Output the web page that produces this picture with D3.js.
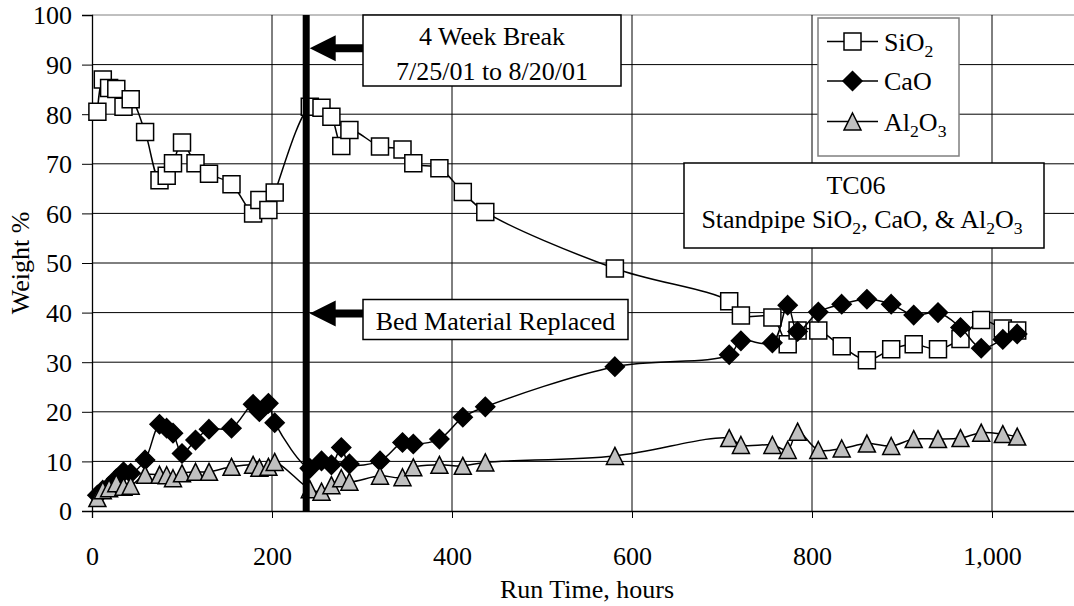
<!DOCTYPE html>
<html>
<head>
<meta charset="utf-8">
<script src="https://cdn.jsdelivr.net/npm/d3@7"></script>
<style>
  html, body { margin: 0; padding: 0; background: #fff; }
  svg { display: block; font-family: "Liberation Serif", "Times New Roman", serif; }
</style>
</head>
<body>
<svg id="chart" width="1074" height="606"></svg>
<script>
// ---------- data ----------
const hours = [6, 12, 19, 27, 35, 43, 59, 75, 83, 90, 100, 115, 130, 155, 179, 186, 196, 203,
               242, 255, 266, 277, 286, 320, 345, 357, 386, 412, 437, 581,
               708, 721, 756, 773, 784, 807, 833, 861, 888, 913, 940, 965, 988, 1012, 1028];
const sio2 = [80.5, 87.0, 85.3, 85.1, 81.5, 83.0, 76.4, 66.7, 67.6, 70.1, 74.3, 70.1, 68.0, 65.9, 60.0, 62.7, 60.7, 64.2,
              81.5, 81.3, 79.5, 73.6, 76.8, 73.5, 72.9, 70.1, 69.1, 64.3, 60.3, 48.9,
              42.3, 39.4, 39.0, 33.6, 36.4, 36.4, 33.2, 30.4, 32.6, 33.6, 32.6, 34.7, 38.5, 36.8, 36.4];
const cao = [3.2, 4.2, 5.0, 6.5, 7.9, 7.6, 10.3, 17.5, 16.7, 15.7, 11.6, 14.3, 16.5, 16.7, 21.5, 20.0, 21.7, 17.8,
             8.6, 10.1, 9.3, 12.8, 9.5, 10.1, 13.8, 13.5, 14.5, 18.9, 21.0, 29.1,
             31.5, 34.3, 33.9, 41.5, 36.2, 40.1, 41.7, 42.7, 41.7, 39.5, 40.0, 37.0, 32.8, 34.6, 35.7];
const al2o3 = [2.6, 4.2, 4.6, 5.6, 4.9, 5.1, 7.3, 7.3, 7.2, 6.6, 7.6, 7.9, 7.9, 8.9, 9.3, 8.7, 8.9, 9.9,
               4.4, 3.9, 5.2, 6.6, 5.9, 7.1, 6.8, 8.8, 9.3, 9.1, 9.8, 11.1,
               14.7, 13.3, 13.3, 12.3, 16.0, 12.3, 12.6, 13.6, 13.1, 14.5, 14.5, 14.7, 15.8, 15.5, 15.0];
const xTickValues = [0, 200, 400, 600, 800, 1000];
const yTickValues = [0, 10, 20, 30, 40, 50, 60, 70, 80, 90, 100];
const breakHour = 238;
const seriesNames = [
  [["SiO", 0], ["2", 1]],
  [["CaO", 0]],
  [["Al", 0], ["2", 1], ["O", 0], ["3", 1]]
];
const breakLabel = ["4 Week Break", "7/25/01 to 8/20/01"];
const bedLabel = "Bed Material Replaced";
const xTitle = "Run Time, hours";
const yTitle = "Weight %";

// ---------- layout ----------
const svg = d3.select("#chart");
const FONT = 26;
const SERIF = "Liberation Serif";
const x = d3.scaleLinear().domain([0, 1100]).range([92, 1082]);
const y = d3.scaleLinear().domain([0, 100]).range([511, 15]);

svg.append("rect").attr("width", 1074).attr("height", 606).attr("fill", "#fff");

// gridlines
const grid = svg.append("g");
grid.selectAll("line.h").data(yTickValues.filter(d => d > 0)).join("line")
  .attr("x1", x(0)).attr("x2", x(1100))
  .attr("y1", d => y(d)).attr("y2", d => y(d))
  .attr("stroke", d => d === 100 ? "#808080" : "#000").attr("stroke-width", 1);
grid.selectAll("line.v").data(xTickValues.filter(d => d > 0)).join("line")
  .attr("x1", d => x(d)).attr("x2", d => x(d))
  .attr("y1", y(0)).attr("y2", y(100))
  .attr("stroke", "#000").attr("stroke-width", 1);

// axes
const xAxis = d3.axisBottom(x).tickValues(xTickValues).tickFormat(d3.format(",")).tickSize(7).tickPadding(0);
const gx = svg.append("g").attr("transform", `translate(0,${y(0)})`).call(xAxis);
gx.attr("font-family", SERIF);
gx.select(".domain").attr("stroke", "#000").attr("stroke-width", 1.3);
gx.selectAll(".tick line").attr("stroke", "#000");
gx.selectAll(".tick text").attr("font-size", FONT).attr("font-family", SERIF)
  .attr("fill", "#000").attr("dy", null).attr("y", 565 - 511);

const yAxis = d3.axisLeft(y).tickValues(yTickValues).tickSize(10).tickPadding(10);
const gy = svg.append("g").attr("transform", `translate(${x(0)},0)`).call(yAxis);
gy.attr("font-family", SERIF);
gy.select(".domain").attr("stroke", "#000").attr("stroke-width", 1.3);
gy.selectAll(".tick line").attr("stroke", "#000");
gy.selectAll(".tick text").attr("font-size", FONT).attr("font-family", SERIF)
  .attr("fill", "#000").attr("dy", "0.34em");

// axis titles
svg.append("text").attr("x", (x(0) + x(1100)) / 2).attr("y", 598)
  .attr("text-anchor", "middle").attr("font-size", FONT).attr("font-family", SERIF).text(xTitle);
svg.append("text").attr("transform", `translate(29,${(y(0) + y(100)) / 2}) rotate(-90)`)
  .attr("text-anchor", "middle").attr("font-size", FONT).attr("font-family", SERIF).text(yTitle);

// ---------- series ----------
const line = d3.line().x(d => x(d[0])).y(d => y(d[1])).curve(d3.curveCatmullRom.alpha(0.5));
const SZ = 17;
function squarePath(s) { const h = s / 2; return `M${-h},${-h}H${h}V${h}H${-h}Z`; }
function diamondPath(s) { const h = s / 2 + 1; return `M0,${-h}L${h},0L0,${h}L${-h},0Z`; }
function trianglePath(s) { const h = s / 2; return `M0,${-h}L${h},${h}L${-h},${h}Z`; }
const series = [
  { vals: sio2, path: squarePath(SZ), fill: "#fff" },
  { vals: cao, path: diamondPath(SZ), fill: "#000" },
  { vals: al2o3, path: trianglePath(SZ), fill: "#c0c0c0" }
];
series.forEach(s => {
  const pts = hours.map((h, i) => [h, s.vals[i]]);
  const g = svg.append("g");
  g.append("path").attr("d", line(pts)).attr("fill", "none").attr("stroke", "#000").attr("stroke-width", 1.5);
  g.selectAll("path.m").data(pts).join("path").attr("class", "m")
    .attr("transform", d => `translate(${x(d[0])},${y(d[1])})`)
    .attr("d", s.path).attr("fill", s.fill).attr("stroke", "#000").attr("stroke-width", 1.5);
});

// ---------- annotations ----------
const bx = x(breakHour);
svg.append("rect").attr("x", bx - 3.5).attr("y", y(100)).attr("width", 7).attr("height", y(0) - y(100)).attr("fill", "#000");

function arrow(yv, boxLeft) {
  const ty = y(yv), tip = bx + 3.5, hb = tip + 26;
  svg.append("path")
    .attr("d", `M${tip},${ty}L${hb},${ty - 13}L${hb},${ty - 4}L${boxLeft},${ty - 4}L${boxLeft},${ty + 4}L${hb},${ty + 4}L${hb},${ty + 13}Z`)
    .attr("fill", "#000");
}
arrow(93.3, 364);
arrow(39.8, 364);

function addText(g, xx, yy, segs, anchor) {
  const t = g.append("text").attr("x", xx).attr("y", yy).attr("font-size", FONT)
    .attr("font-family", SERIF).attr("text-anchor", anchor || "start");
  let shifted = false;
  segs.forEach(([str, sub]) => {
    const ts = t.append("tspan").text(str);
    if (sub && !shifted) { ts.attr("dy", 6).attr("font-size", FONT * 0.68); shifted = true; }
    else if (!sub && shifted) { ts.attr("dy", -6); shifted = false; }
    else if (sub) ts.attr("font-size", FONT * 0.68);
  });
  return t;
}

const ann = svg.append("g").attr("font-family", SERIF);
ann.append("rect").attr("x", 363).attr("y", 15).attr("width", 258).attr("height", 71)
  .attr("fill", "#fff").attr("stroke", "#000").attr("stroke-width", 1.5);
ann.append("text").attr("x", 492).attr("y", 45).attr("text-anchor", "middle").attr("font-size", FONT).text(breakLabel[0]);
ann.append("text").attr("x", 492).attr("y", 80).attr("text-anchor", "middle").attr("font-size", FONT).text(breakLabel[1]);

ann.append("rect").attr("x", 363).attr("y", 299.5).attr("width", 265).attr("height", 40)
  .attr("fill", "#fff").attr("stroke", "#000").attr("stroke-width", 1.5);
ann.append("text").attr("x", 495.5).attr("y", 330).attr("text-anchor", "middle").attr("font-size", FONT).text(bedLabel);

// TC06 box
ann.append("rect").attr("x", 684).attr("y", 163).attr("width", 360).attr("height", 85)
  .attr("fill", "#fff").attr("stroke", "#000").attr("stroke-width", 1.5);
ann.append("text").attr("x", 856).attr("y", 194).attr("text-anchor", "middle").attr("font-size", FONT).text("TC06");
addText(ann, 862, 228, [["Standpipe SiO", 0], ["2", 1], [", CaO, & Al", 0], ["2", 1], ["O", 0], ["3", 1]], "middle");

// legend
const lg = svg.append("g").attr("font-family", SERIF);
lg.append("rect").attr("x", 818).attr("y", 18).attr("width", 141).attr("height", 138)
  .attr("fill", "#fff").attr("stroke", "#7f7f7f").attr("stroke-width", 1.5);
const rowY = [41.5, 81, 121.5];
series.forEach((s, i) => {
  lg.append("line").attr("x1", 827).attr("x2", 878).attr("y1", rowY[i]).attr("y2", rowY[i]).attr("stroke", "#000").attr("stroke-width", 1.5);
  lg.append("path").attr("transform", `translate(852.5,${rowY[i]})`).attr("d", s.path)
    .attr("fill", s.fill).attr("stroke", "#000").attr("stroke-width", 1.5);
  addText(lg, 884, rowY[i] + 9, seriesNames[i], "start");
});
</script>
</body>
</html>
